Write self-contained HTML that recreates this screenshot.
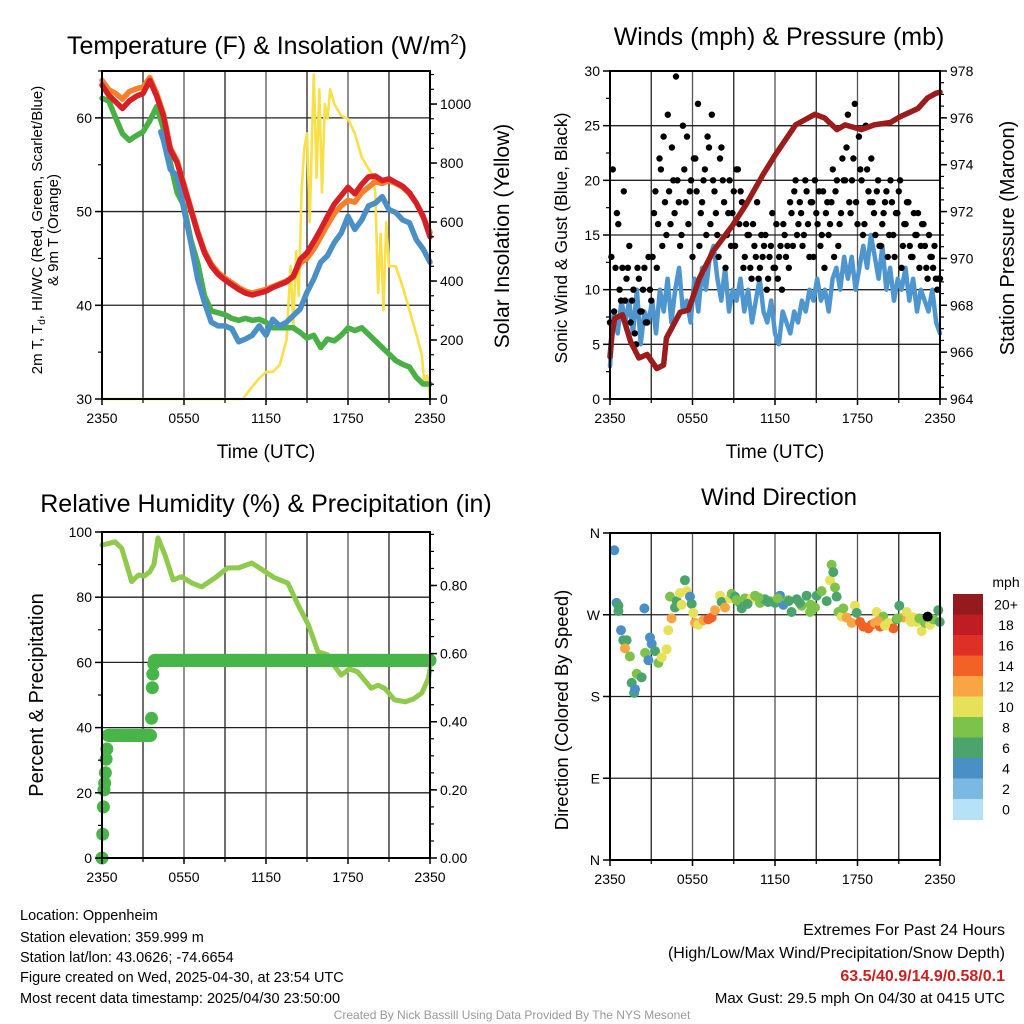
<!DOCTYPE html>
<html><head><meta charset="utf-8"><style>
html,body{margin:0;padding:0;background:#fff;}
svg{display:block;font-family:"Liberation Sans",Arial,sans-serif;}
</style></head><body>
<svg id="s" width="1024" height="1024" viewBox="0 0 1024 1024" xmlns="http://www.w3.org/2000/svg">
<g id="grid"></g>
<g id="marks"></g>
<g id="axes"></g>
<g id="txt" fill="#000">
<text x="267" y="54" font-size="25" text-anchor="middle">Temperature (F) &amp; Insolation (W/m<tspan dy="-10" font-size="15">2</tspan><tspan dy="10">)</tspan></text>
<text x="779" y="45" font-size="25" text-anchor="middle">Winds (mph) &amp; Pressure (mb)</text>
<text x="266" y="512" font-size="25" text-anchor="middle">Relative Humidity (%) &amp; Precipitation (in)</text>
<text x="779" y="505" font-size="24" text-anchor="middle">Wind Direction</text>
<text x="266" y="458" font-size="19" text-anchor="middle">Time (UTC)</text>
<text x="775" y="458" font-size="19" text-anchor="middle">Time (UTC)</text>
<text transform="translate(42,230) rotate(-90)" font-size="15" text-anchor="middle">2m T, T<tspan dy="3" font-size="10">d</tspan><tspan dy="-3">, HI/WC (Red, Green, Scarlet/Blue)</tspan></text>
<text transform="translate(58,230) rotate(-90)" font-size="15" text-anchor="middle">&amp; 9m T (Orange)</text>
<text transform="translate(509,236) rotate(-90)" font-size="21" text-anchor="middle">Solar Insolation (Yellow)</text>
<text transform="translate(567,238) rotate(-90)" font-size="17.5" text-anchor="middle">Sonic Wind &amp; Gust (Blue, Black)</text>
<text transform="translate(1014,238) rotate(-90)" font-size="20" text-anchor="middle">Station Pressure (Maroon)</text>
<text transform="translate(43,695) rotate(-90)" font-size="20" text-anchor="middle">Percent &amp; Precipitation</text>
<text transform="translate(568,710) rotate(-90)" font-size="18.5" text-anchor="middle">Direction (Colored By Speed)</text>
<g font-size="14.5">
<text x="20" y="920">Location: Oppenheim</text>
<text x="20" y="942">Station elevation: 359.999 m</text>
<text x="20" y="962">Station lat/lon: 43.0626; -74.6654</text>
<text x="20" y="982">Figure created on Wed, 2025-04-30, at 23:54 UTC</text>
<text x="20" y="1003">Most recent data timestamp: 2025/04/30 23:50:00</text>
</g>
<g text-anchor="end">
<text x="1005" y="935" font-size="16">Extremes For Past 24 Hours</text>
<text x="1005" y="958" font-size="16">(High/Low/Max Wind/Precipitation/Snow Depth)</text>
<text x="1005" y="981" font-size="16" font-weight="bold" fill="#cc1f1f">63.5/40.9/14.9/0.58/0.1</text>
<text x="1005" y="1003" font-size="15">Max Gust: 29.5 mph On 04/30 at 0415 UTC</text>
</g>
<text x="512" y="1019" font-size="12" fill="#999" text-anchor="middle">Created By Nick Bassill Using Data Provided By The NYS Mesonet</text>
</g>
</svg>
<script>
// ---- data (time in hours since 2350 UTC) ----
var timeTicks=["2350","0550","1150","1750","2350"];
var tempT=[0,0.5,1,1.5,2,2.5,3,3.5,4,4.5,5,5.5,6,6.5,7,7.5,8,8.5,9,9.5,10,10.5,11,11.5,12,12.5,13,13.5,14,14.5,15,15.5,16,16.5,17,17.5,18,18.5,19,19.5,20,20.5,21,21.5,22,22.5,23,23.5,24];
var redT=[63.5,62.4,61.7,61.0,61.8,62.3,62.6,64.0,62.3,60.2,56.6,55.2,52.7,50.2,47.7,45.6,44.2,43.3,42.7,42.2,41.7,41.3,41.1,41.3,41.5,41.9,42.2,42.5,43.1,44.9,45.6,46.8,48.1,49.5,50.8,51.7,52.6,51.9,52.9,53.7,53.8,53.3,53.5,53.1,52.7,52.0,50.9,49.5,47.3];
var orangeT=[64.0,63.0,62.6,62.0,62.8,63.1,63.3,64.3,62.6,60.4,56.8,55.4,52.9,50.4,47.9,45.8,44.4,43.5,42.9,42.4,41.9,41.5,41.3,41.5,41.7,42.0,42.3,42.6,43.0,44.5,45.0,46.0,47.3,48.6,49.8,50.6,51.2,51.0,52.0,52.6,53.2,53.0,53.3,53.0,52.6,51.9,50.9,49.4,47.8];
var greenT=[62.1,61.8,60.0,58.3,57.6,58.1,58.5,59.7,61.2,58.8,55.2,52.0,50.6,47.0,44.5,41.0,39.4,39.2,39.0,38.6,38.4,38.6,38.4,38.5,38.2,37.6,37.6,37.6,37.6,37.1,36.5,36.8,35.5,36.4,36.2,36.8,37.6,37.3,37.6,36.9,36.2,35.5,34.8,34.1,33.7,33.4,32.3,31.6,31.6];
var blueTT=[4.3,4.5,5,5.5,6,6.5,7,7.5,8,8.5,9,9.5,10,10.5,11,11.5,12,12.5,13,13.5,14,14.5,15,15.5,16,16.5,17,17.5,18,18.5,19,19.5,20,20.5,21,21.5,22,22.5,23,23.5,24];
var blueT=[58.5,57.6,54.5,53.8,50.2,46.7,42.8,40.3,38.2,37.8,37.8,37.5,36.1,36.4,36.8,37.8,36.8,38.5,37.8,38.2,38.9,39.6,41.4,42.8,44.6,45.3,46.7,47.7,49.5,48.1,49.1,50.6,50.9,51.6,50.2,49.9,49.1,48.8,47.0,46.0,44.6];
var solarT=[0,10.3,11,11.5,12,12.5,13,13.5,13.8,14.0,14.2,14.4,14.6,14.8,15.0,15.2,15.4,15.5,15.7,15.9,16.1,16.3,16.5,16.7,17.0,17.5,18,18.5,19,19.5,19.8,20.0,20.2,20.4,20.6,20.8,21.0,21.5,22,22.5,23,23.4,23.6,23.8,24];
var solarV=[0,0,42,70,92,92,115,200,450,250,500,350,700,850,900,600,950,1100,750,1050,700,1000,950,1050,1000,960,950,900,820,780,760,700,360,560,300,600,450,450,380,300,220,150,50,80,0];
var pressT=[0,0.15,0.35,0.9,1.5,2.1,2.7,3.4,3.9,4.1,5.1,5.7,6.5,7.5,8.9,9.9,11.1,12.0,13.5,14.9,15.6,16.5,17.1,18.3,19.2,20.4,21.1,22.4,23.1,23.7,24];
var pressV=[965.8,966.8,967.45,967.6,966.45,965.75,965.9,965.3,965.45,966.6,967.7,967.8,969.15,970.3,971.4,972.3,973.55,974.4,975.7,976.15,976.0,975.5,975.7,975.5,975.7,975.8,976.05,976.4,976.85,977.05,977.1];
var windV=[3,8,6,9,7,9,6,10,5,8,7,9,6,10,8,11,7,10,12,8,9,7,11,8,12,10,13,14,11,9,12,8,10,9,11,8,10,7,9,11,8,7,9,6,5,8,7,6,8,7,9,8,10,9,11,9,10,8,11,12,10,13,11,13,10,12,14,12,15,13,11,14,10,12,9,11,10,12,9,11,8,10,9,8,10,7,6];
var gustA=[7,21,12,16,9,19,11,14,9,6,12,8,10,7,13,9,17,12,22,14,18,26,16,20,29.5,18,15,21,24,19,13,22,27,17,20,15,23,26,19,15,22,20,12,17,14,19,21,16,18,13,15,12,16,13,11,15,14,10,13,17,12,11,14,16,13,12,17,19,15,18,14,20,16,18,13,17,19,15,12,18,16,21,19,14,17,20,23,18,20,27,16,21,15,25,19,22,17,19,14,16,18,13,20,15,17,19,12,16,18,14,13,15,17,14,16,12,15,13,14,10,11];
var gustB=[13,8,17,10,12,9,12,7,10,5,11,8,12,7,10,13,19,16,21,24,15,19,23,17,20,14,25,18,16,20,22,19,14,18,21,24,16,20,17,13,23,18,15,20,17,14,21,19,12,16,15,11,14,18,12,13,15,11,14,12,16,13,10,15,14,18,14,20,16,17,15,19,13,18,20,16,14,19,17,15,18,13,20,16,22,20,26,17,22,18,24,20,16,21,18,18,15,20,14,17,19,15,18,13,17,20,14,16,18,13,17,15,12,16,14,11,13,12,11,11];
var rhT=[0,0.5,0.95,1.44,1.8,2.17,2.66,3.1,3.5,3.8,4.1,4.6,5.2,5.8,6.6,7.3,8.3,9.2,10.0,10.95,11.7,12.6,13.6,14.35,15.1,15.8,16.5,17.0,17.5,18.1,18.7,19.7,20.2,20.7,21.4,22.2,22.8,23.4,23.9,24];
var rhV=[96.0,96.5,97.0,95.0,90,84.8,86.8,86.5,87.8,90,98.2,93.0,85.3,86.3,84.3,83.2,86.0,89.0,89.0,90.5,88.5,86.0,84.3,77.6,71.5,63.3,62.3,59,56.1,58,57.1,52.1,53,52.0,48.5,47.9,48.8,50.6,55.2,58];
var precipT=[0,0.05,0.1,0.15,0.2,0.25,0.3,0.35,0.45,3.55,3.62,3.68,3.72,3.78,3.85,24];
var precipV=[0,0.07,0.15,0.2,0.22,0.25,0.29,0.32,0.36,0.36,0.41,0.5,0.54,0.57,0.58,0.58];
var dirT=[0.31,0.48,0.61,0.61,0.80,0.97,1.21,1.09,1.45,1.58,1.75,1.82,1.94,2.30,2.50,2.55,2.79,2.91,3.03,3.27,3.52,3.76,4.12,4.24,4.36,4.48,4.73,4.85,5.09,5.21,5.45,5.58,5.82,5.94,6.06,6.18,6.42,6.79,7.15,7.39,7.64,8.0,8.12,8.36,8.73,8.85,9.09,9.45,9.58,9.82,10.3,10.55,10.91,11.27,11.64,12.0,12.36,12.61,12.97,13.21,13.58,13.94,14.30,14.55,14.91,15.03,15.39,15.76,16.0,16.12,16.24,16.36,16.48,16.61,16.85,16.97,17.21,17.58,17.82,17.94,18.18,18.42,18.79,19.03,19.27,19.39,19.64,19.88,20.24,20.61,20.85,21.04,21.33,21.58,21.82,22.06,22.30,22.67,22.91,23.27,23.52,23.88,23.98,9.2,10.0,10.8,11.5,12.2,13.0,13.8,14.6,19.5,20.0,20.9,21.9,22.5,23.1];
var dirV=[341,283,280,274,253,242,242,233,224,195,184,188,205,201,277,228,220,245,238,230,217,223,232,253,290,266,278,285,294,281,308,296,290,282,272,261,259,264,265,267,275,291,284,278,288,293,290,283,277,288,288,291,283,287,285,283,291,281,286,273,287,280,291,273,278,291,296,285,308,325,317,300,290,273,268,277,267,261,280,272,262,257,255,259,261,273,257,268,261,255,265,280,267,273,264,267,262,252,261,259,265,275,262,286,282,289,284,288,285,283,281,263,258,266,262,266,268];
var dirS=[4,4,6,6,4,6,6,12,8,6,6,4,8,6,4,8,4,4,4,6,8,10,10,10,8,12,6,6,10,10,6,10,4,6,10,12,10,12,14,14,12,10,6,12,10,8,6,6,6,8,10,8,8,6,8,6,4,4,8,6,6,8,6,8,8,6,8,6,10,8,6,8,6,8,10,8,12,12,10,6,14,14,14,14,12,10,14,8,10,14,6,6,12,10,10,10,10,10,8,10,8,6,6,8,6,8,6,8,7,6,8,12,10,8,10,8];
var cbLabels=["0","2","4","6","8","10","12","14","16","18","20+"];
var cbColors=["#b7e1f7","#7ab9e4","#4a8fc6","#4aa46c","#7dc24a","#e7e15a","#f9a543","#f26126","#de3027","#c01c24","#951a1d"];

var NS="http://www.w3.org/2000/svg";
function mk(parent,tag,attrs){var e=document.createElementNS(NS,tag);for(var k in attrs)e.setAttribute(k,attrs[k]);parent.appendChild(e);return e;}
var G=document.getElementById('grid'),M=document.getElementById('marks'),A=document.getElementById('axes');
function lin(d0,d1,r0,r1){return function(v){return r0+(v-d0)*(r1-r0)/(d1-d0);};}
var P1={x0:102,x1:430,y0:71,y1:399},P2={x0:610,x1:940,y0:71,y1:399},P3={x0:102,x1:430,y0:532,y1:858},P4={x0:610,x1:940,y0:533,y1:860};
[P1,P2,P3,P4].forEach(function(p){p.x=lin(0,24,p.x0,p.x1);});
var yT=lin(30,65,399,71),ySol=lin(0,1112,399,71),yW=lin(0,30,399,71),yP=lin(964,978,399,71),yRH=lin(0,100,858,532),yPr=lin(0,0.957,858,532);
function yDir(d){return lin(0,360,860,533)(d);}

function path(pts,color,w,name){var d=pts.map(function(p,i){return (i?'L':'M')+p[0].toFixed(1)+' '+p[1].toFixed(1);}).join('');
var e=mk(M,'path',{d:d,fill:'none',stroke:color,'stroke-width':w,'stroke-linejoin':'round','stroke-linecap':'round'});

return e;}
function dot(cx,cy,r,color,name){var e=mk(M,'circle',{cx:cx.toFixed(1),cy:cy.toFixed(1),r:r,fill:color});

return e;}

function frame(p,hy,name){
  for(var h=3;h<24;h+=3){var gl=mk(G,'line',{x1:p.x(h),x2:p.x(h),y1:p.y0,y2:p.y1,stroke:(h%6===0)?'#555':'#222','stroke-width':1.3});
  
  }
  hy.forEach(function(y){var gl=mk(G,'line',{x1:p.x0,x2:p.x1,y1:y,y2:y,stroke:'#222','stroke-width':1.3});
  
  });
  var f=mk(A,'rect',{x:p.x0,y:p.y0,width:p.x1-p.x0,height:p.y1-p.y0,fill:'none',stroke:'#000','stroke-width':2});
  
  
  for(var i=0;i<timeTicks.length;i++){var x=p.x(i*6);
    mk(A,'line',{x1:x,x2:x,y1:p.y1,y2:p.y1+6,stroke:'#000','stroke-width':1.5});
    var t=mk(A,'text',{x:x,y:p.y1+24,'font-size':14,'text-anchor':'middle'});t.textContent=timeTicks[i];
    
    }
  for(var h2=3;h2<24;h2+=6){mk(A,'line',{x1:p.x(h2),x2:p.x(h2),y1:p.y1,y2:p.y1+4,stroke:'#000','stroke-width':1.2});}
}
function yaxis(p,side,vals,fy,fmt,minor){
  var x=side==='l'?p.x0:p.x1,dir=side==='l'?-1:1;
  minor.forEach(function(v){mk(A,'line',{x1:x,x2:x+dir*4,y1:fy(v),y2:fy(v),stroke:'#000','stroke-width':1.2});});
  vals.forEach(function(v){var y=fy(v);mk(A,'line',{x1:x,x2:x+dir*7,y1:y,y2:y,stroke:'#000','stroke-width':1.5});
    var t=mk(A,'text',{x:x+dir*10,y:y+5,'font-size':14,'text-anchor':side==='l'?'end':'start'});t.textContent=fmt(v);
    
    });
}
function rng(a,b,s){var r=[];for(var v=a;v<=b+1e-9;v+=s)r.push(Math.round(v*1000)/1000);return r;}
frame(P1,[yT(40),yT(50),yT(60)],'temperature-plot-area');
yaxis(P1,'l',[30,40,50,60],yT,String,[35,45,55,65]);
yaxis(P1,'r',[0,200,400,600,800,1000],ySol,String,rng(50,1100,50));
frame(P2,[yW(5),yW(10),yW(15),yW(20),yW(25)],'winds-plot-area');
yaxis(P2,'l',[0,5,10,15,20,25,30],yW,String,rng(2.5,27.5,5));
yaxis(P2,'r',[964,966,968,970,972,974,976,978],yP,String,rng(964.5,977.5,0.5));
frame(P3,[yRH(20),yRH(40),yRH(60),yRH(80)],'humidity-plot-area');
yaxis(P3,'l',[0,20,40,60,80,100],yRH,String,rng(10,90,20));
yaxis(P3,'r',[0,0.2,0.4,0.6,0.8],yPr,function(v){return v.toFixed(2);},rng(0.05,0.95,0.05));
frame(P4,[yDir(90),yDir(180),yDir(270)],'direction-plot-area');
yaxis(P4,'l',[0,90,180,270,360],yDir,function(v){return ['N','E','S','W','N'][v/90];},[]);

path(solarT.map(function(t,i){return [P1.x(t),ySol(solarV[i])];}),'#f7e04a',2.6,'solar-insolation-line');
path(greenT.map(function(v,i){return [P1.x(tempT[i]),yT(v)];}),'#48b045',5.5,'dewpoint-line');
path(blueT.map(function(v,i){return [P1.x(blueTT[i]),yT(v)];}),'#4a8fc6',5.5,'wind-chill-line');
path(orangeT.map(function(v,i){return [P1.x(tempT[i]),yT(v)];}),'#f57f2a',5.5,'temp-9m-line');
path(redT.map(function(v,i){return [P1.x(tempT[i]),yT(v)];}),'#d61f26',5.5,'temp-2m-line');

path(windV.map(function(v,i){return [P2.x(i*24/(windV.length-1)),yW(v)];}),'#4f96cf',4.5,'sonic-wind-line');
gustA.forEach(function(v,i){dot(P2.x(Math.min(24,i*0.2)),yW(v),3.2,'#000','gust-point');});
gustB.forEach(function(v,i){dot(P2.x(Math.min(24,0.1+i*0.2)),yW(v),3.2,'#000','gust-point');});
path(pressT.map(function(t,i){return [P2.x(t),yP(pressV[i])];}),'#9b1c1c',5.5,'pressure-line');

path(rhT.map(function(t,i){return [P3.x(t),yRH(rhV[i])];}),'#8fca4c',5,'relative-humidity-line');
for(var i=0;i<precipT.length;i++){
  dot(P3.x(precipT[i]),yPr(precipV[i]),6.5,'#48b548','precip-point');
  if(i<precipT.length-1 && precipV[i+1]===precipV[i]){
    for(var tt=precipT[i]+0.06;tt<precipT[i+1];tt+=0.06){dot(P3.x(tt),yPr(precipV[i]),6.5,'#48b548','precip-point');}
  }
}

dirT.forEach(function(t,i){var b=Math.min(10,Math.floor(dirS[i]/2));dot(P4.x(Math.min(23.98,t)),yDir(dirV[i]),5,cbColors[b],'direction-point');});

var cbx=953,cbw=30,cby=594,cbh=20.5;
var ml=mk(A,'text',{x:1006,y:587,'font-size':14,'text-anchor':'middle'});ml.textContent='mph';


for(var k=0;k<cbColors.length;k++){var j=cbColors.length-1-k;var y=cby+k*cbh;
  var r=mk(A,'rect',{x:cbx,y:y,width:cbw,height:cbh+0.5,fill:cbColors[j]});
  
  
  var t=mk(A,'text',{x:1006,y:y+cbh/2+5,'font-size':14,'text-anchor':'middle'});t.textContent=cbLabels[j];
  
  }
</script>
</body></html>
